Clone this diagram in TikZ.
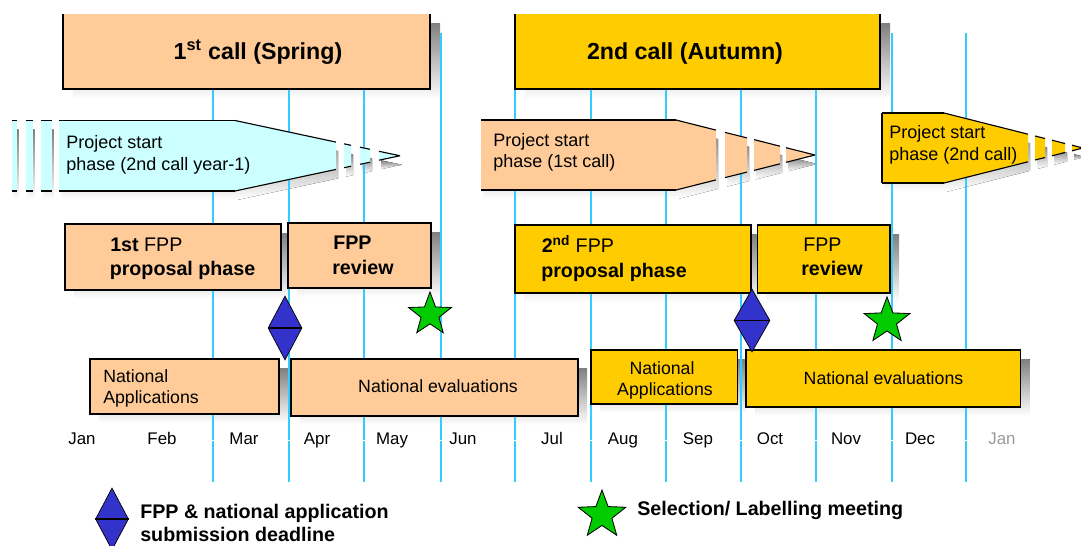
\documentclass[tikz,border=0pt]{standalone}
\usepackage{fontspec}
\setmainfont{Liberation Sans}
\usetikzlibrary{calc,shapes.geometric}
\pgfdeclarelayer{shadowlayer}
\pgfdeclarelayer{gridlayer}
\pgfsetlayers{shadowlayer,gridlayer,main}
\definecolor{peach}{HTML}{FFCC99}
\definecolor{gold}{HTML}{FFCC00}
\definecolor{pale}{HTML}{CCFFFF}
\definecolor{shade}{HTML}{808080}
\definecolor{gridblue}{HTML}{33CCFF}
\definecolor{dblue}{HTML}{3333CC}
\definecolor{sgreen}{HTML}{00CC00}
\definecolor{lightgraytext}{HTML}{999999}

\tikzset{
  box/.style={draw=black, line width=0.9pt, inner sep=0pt, outer sep=0pt, rectangle},
  edge/.style={draw=black, line width=0.8pt},
  gridline/.style={draw=gridblue, line width=1.1pt},
  gridthick/.style={draw=gridblue, line width=1.7pt},
  titletext/.style={font=\bfseries\fontsize{16.5pt}{20pt}\selectfont, anchor=base, inner sep=0pt},
  phasetext/.style={font=\bfseries\fontsize{14pt}{17pt}\selectfont, anchor=base west, inner sep=0pt},
  bandtext/.style={font=\fontsize{12.8pt}{15pt}\selectfont, anchor=base west, inner sep=0pt},
  nattext/.style={font=\fontsize{12.6pt}{15pt}\selectfont, inner sep=0pt},
  monthtext/.style={font=\fontsize{12pt}{14pt}\selectfont, anchor=base, inner sep=0pt},
  legendtext/.style={font=\bfseries\fontsize{14pt}{17pt}\selectfont, anchor=base west, inner sep=0pt},
  deadline/.style={diamond, fill=dblue, draw=black, line width=0.5pt, inner sep=0pt},
  meeting/.style={star, star points=5, star point ratio=2.4, fill=sgreen, draw=black, line width=0.6pt, inner sep=0pt}
}

% name, x1, y1, x2, y2, fill
\newcommand{\mkbox}[6]{%
  \node[box, fill=#6, minimum width={(#4-#2)*0.025cm}, minimum height={(#5-#3)*0.025cm}] (#1) at ({(#2+#4)/2},{(#3+#5)/2}) {};
  \begin{pgfonlayer}{shadowlayer}
    \fill[shade] ($(#1.north west)+(9,9)$) rectangle ($(#1.south east)+(9,9)$);
  \end{pgfonlayer}}

% fill, x1, top1, bottom1, x2, top2, bottom2
\newcommand{\bandpiece}[7]{%
  \begin{pgfonlayer}{shadowlayer}
    \fill[shade] (#2+2,#3+9) -- (#5+2,#6+9) -- (#5+2,#7+9) -- (#2+2,#4+9) -- cycle;
  \end{pgfonlayer}
  \fill[#1] (#2,#3) -- (#5,#6) -- (#5,#7) -- (#2,#4) -- cycle;
  \draw[edge] (#2,#3) -- (#5,#6) (#2,#4) -- (#5,#7);}

\begin{document}
\begin{tikzpicture}[x=0.025cm, y=-0.025cm]
\useasboundingbox (0,0) rectangle (1081,546);

% grid lines
\begin{pgfonlayer}{gridlayer}
  \foreach \gx in {213,364,441,515,591,666,816,892,966}{
    \draw[gridline] (\gx,33) -- (\gx,482);
    \draw[white, line width=0.5pt] (\gx-2,440) -- (\gx+2,440);
  }
  \foreach \gx in {289,741}{
    \draw[gridthick] (\gx,33) -- (\gx,482);
    \draw[white, line width=0.5pt] (\gx-2,440) -- (\gx+2,440);
  }
\end{pgfonlayer}

% top call boxes (no top edge)
\node[inner sep=0pt, outer sep=0pt, fill=peach, minimum width={367*0.025cm}, minimum height={75*0.025cm}] (call1) at (246.5,51.5) {};
\draw[box] (call1.north west) -- (call1.south west) -- (call1.south east) -- (call1.north east);
\node[inner sep=0pt, outer sep=0pt, fill=gold, minimum width={365*0.025cm}, minimum height={75*0.025cm}] (call2) at (697.5,51.5) {};
\draw[box] (call2.north west) -- (call2.south west) -- (call2.south east) -- (call2.north east);
\begin{pgfonlayer}{shadowlayer}
  \fill[shade] ($(call1.north west)+(10,9)$) rectangle ($(call1.south east)+(10,10)$);
  \fill[shade] ($(call2.north west)+(10,9)$) rectangle ($(call2.south east)+(10,10)$);
\end{pgfonlayer}
\node[titletext] (t1) at (258,59) {1\textsuperscript{st} call (Spring)};
\node[titletext] (t2) at (685,59) {2nd call (Autumn)};

% cyan band: project start phase (2nd call year-1)
\bandpiece{pale}{11.5}{120.5}{191}{16.7}{120.5}{191}
\bandpiece{pale}{25.7}{120.5}{191}{32.7}{120.5}{191}
\bandpiece{pale}{41}{120.5}{191}{51.7}{120.5}{191}
\bandpiece{pale}{59}{120.5}{191}{235}{120.5}{191}
\bandpiece{pale}{235}{120.5}{191}{336}{142.1}{169.4}
\bandpiece{pale}{344}{143.8}{167.7}{351}{145.3}{166.2}
\bandpiece{pale}{360}{147.2}{164.3}{370}{149.3}{162.2}
\bandpiece{pale}{379}{151.3}{160.2}{400}{155.75}{155.75}
\node[bandtext] (b1a) at (66,148) {Project start};
\node[bandtext] (b1b) at (66,170) {phase (2nd call year-1)};

% orange band: project start phase (1st call)
\bandpiece{peach}{481}{120}{190}{676}{120}{190}
\bandpiece{peach}{676}{120}{190}{716}{130.1}{179.9}
\bandpiece{peach}{725}{132.4}{177.6}{747}{137.9}{172.1}
\bandpiece{peach}{754}{139.6}{170.4}{780}{146.2}{163.8}
\bandpiece{peach}{786}{147.7}{162.3}{815}{155}{155}
\node[bandtext] (b2a) at (493,146.5) {Project start};
\node[bandtext] (b2b) at (493,167) {phase (1st call)};

% yellow band: project start phase (2nd call)
\bandpiece{gold}{882}{113}{183}{944}{113}{183}
\bandpiece{gold}{944}{113}{183}{1028}{134.2}{161.8}
\bandpiece{gold}{1035}{136}{160}{1045}{138.5}{157.5}
\bandpiece{gold}{1052}{140.2}{155.8}{1065}{143.5}{152.5}
\bandpiece{gold}{1072}{145.2}{150.8}{1083}{148}{148}
\draw[edge] (882,113) -- (882,183);
\node[bandtext] (b3a) at (889,138) {Project start};
\node[bandtext] (b3b) at (889,160) {phase (2nd call)};

% proposal / review boxes
\mkbox{prop1}{65}{224}{281}{290}{peach}
\mkbox{rev1}{288}{223}{431}{288}{peach}
\mkbox{prop2}{515}{225}{751}{293}{gold}
\mkbox{rev2}{757.5}{225}{890}{293}{gold}
\node[phasetext] (p1a) at (110,251) {1st \mdseries FPP};
\node[phasetext] (p1b) at (109.5,275) {proposal phase};
\node[phasetext] (r1a) at (333,249) {FPP};
\node[phasetext] (r1b) at (332,274) {review};
\node[phasetext] (p2a) at (541.5,252.5) {2\textsuperscript{nd} \mdseries FPP};
\node[phasetext] (p2b) at (541,277) {proposal phase};
\node[phasetext, font=\fontsize{14pt}{17pt}\selectfont] (r2a) at (803,251.5) {FPP};
\node[phasetext] (r2b) at (801,275) {review};

% national boxes
\mkbox{nat1}{90}{359}{279}{414}{peach}
\mkbox{eval1}{291}{359}{578}{416}{peach}
\mkbox{nat2}{591}{350}{737.5}{404}{gold}
\mkbox{eval2}{746}{350}{1020.5}{407}{gold}
\node[nattext, anchor=base west] (n1a) at (103,382.7) {National};
\node[nattext, anchor=base west] (n1b) at (103,403.3) {Applications};
\node[nattext, anchor=base] (e1) at (438,392.7) {National evaluations};
\node[nattext, anchor=base] (n2a) at (662,374) {National};
\node[nattext, anchor=base] (n2b) at (665,395) {Applications};
\node[nattext, anchor=base] (e2) at (883.5,384.3) {National evaluations};

% deadlines and meetings
\node[deadline, minimum width={34*0.025cm}, minimum height={64*0.025cm}] (d1) at (285,328) {};
\draw[black, line width=1.4pt] (d1.west) -- (d1.east);
\node[deadline, minimum width={36*0.025cm}, minimum height={63*0.025cm}] (d2) at (752,320.5) {};
\draw[black, line width=1.4pt] (d2.west) -- (d2.east);
\node[meeting, minimum size={45*0.025cm}] (s1) at (430,314.5) {};
\node[meeting, minimum size={48*0.025cm}] (s2) at (887,321) {};

% months
\foreach \mx/\mname/\mid in {82/Jan/m1,162/Feb/m2,244/Mar/m3,317/Apr/m4,392/May/m5,463/Jun/m6,552/Jul/m7,623/Aug/m8,698/Sep/m9,770/Oct/m10,846/Nov/m11,920/Dec/m12}{
  \node[monthtext] (\mid) at (\mx,444) {\mname};
}
\node[monthtext, text=lightgraytext] (m13) at (1002,444) {Jan};

% legend
\node[deadline, minimum width={33*0.025cm}, minimum height={62*0.025cm}] (ld) at (112,519) {};
\draw[black, line width=1.4pt] (ld.west) -- (ld.east);
\node[legendtext] (lt1) at (140,518) {FPP \& national application};
\node[legendtext] (lt2) at (140,541.5) {submission deadline};
\node[meeting, minimum size={50*0.025cm}] (ls) at (602,515) {};
\node[legendtext] (lt3) at (637,515) {Selection/ Labelling meeting};
\end{tikzpicture}
\end{document}
